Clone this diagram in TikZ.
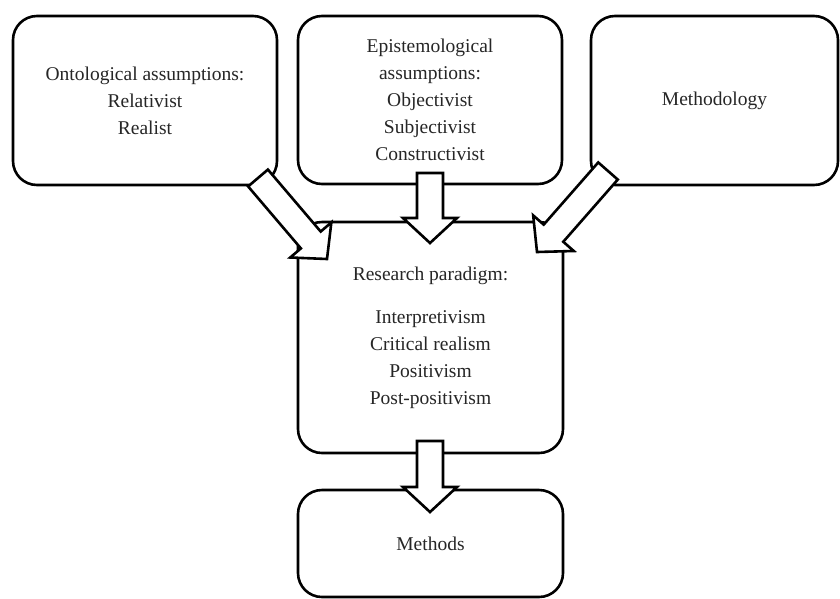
\documentclass[tikz,border=0pt]{standalone}
\usepackage{fontspec}
\setmainfont{Liberation Serif}
\usetikzlibrary{calc}

\tikzset{
  box/.style={draw=black, line width=2.6pt, rounded corners=24pt, fill=white,
    inner sep=0pt, align=center, text=black!85,
    font=\fontsize{19.5}{27}\selectfont},
  blockarrow/.style={draw=black, fill=white, line width=2.6pt, line join=miter}
}

% hollow block arrow from a tail coordinate to a tip coordinate
\newcommand{\blockarrow}[3]{%
  \coordinate (#3) at ($(#2)!25pt!(#1)$);
  \path[blockarrow]
    ($(#1)!13pt!90:(#2)$) -- ($(#3)!13pt!90:(#2)$) -- ($(#3)!27pt!90:(#2)$)
    -- (#2)
    -- ($(#3)!27pt!-90:(#2)$) -- ($(#3)!13pt!-90:(#2)$) -- ($(#1)!13pt!-90:(#2)$)
    -- cycle;
}

\begin{document}
\begin{tikzpicture}[x=1pt, y=-1pt]
  \useasboundingbox (0,0) rectangle (840,598);

  % upper row: assumptions and methodology
  \node[box, minimum width=264pt, minimum height=169pt] (onto) at (145,100.5)
    {Ontological assumptions:\\Relativist\\Realist};
  \node[box, minimum width=264pt, minimum height=168pt] (epi) at (430,100)
    {Epistemological\\assumptions:\\Objectivist\\Subjectivist\\Constructivist};
  \node[box, minimum width=247pt, minimum height=169pt] (meth) at (714.5,100.5)
    {Methodology};

  % central paradigm box and the methods below it
  \node[box, minimum width=265pt, minimum height=231pt] (para) at (430.5,337.5)
    {Research paradigm:\\[16pt]Interpretivism\\Critical realism\\Positivism\\Post-positivism};
  \node[box, minimum width=265pt, minimum height=107pt] (methods) at (430.5,543.5)
    {Methods};

  % arrow ends
  \coordinate (ontoTail) at (258,178);
  \coordinate (ontoTip)  at (327,259);
  \coordinate (epiTail)  at (430,173);
  \coordinate (epiTip)   at (430,243);
  \coordinate (methTail) at (608,171);
  \coordinate (methTip)  at (537,252);
  \coordinate (paraTail) at (430,441);
  \coordinate (paraTip)  at (430,512);

  \blockarrow{ontoTail}{ontoTip}{ontoBase}
  \blockarrow{epiTail}{epiTip}{epiBase}
  \blockarrow{methTail}{methTip}{methBase}
  \blockarrow{paraTail}{paraTip}{paraBase}
\end{tikzpicture}
\end{document}
